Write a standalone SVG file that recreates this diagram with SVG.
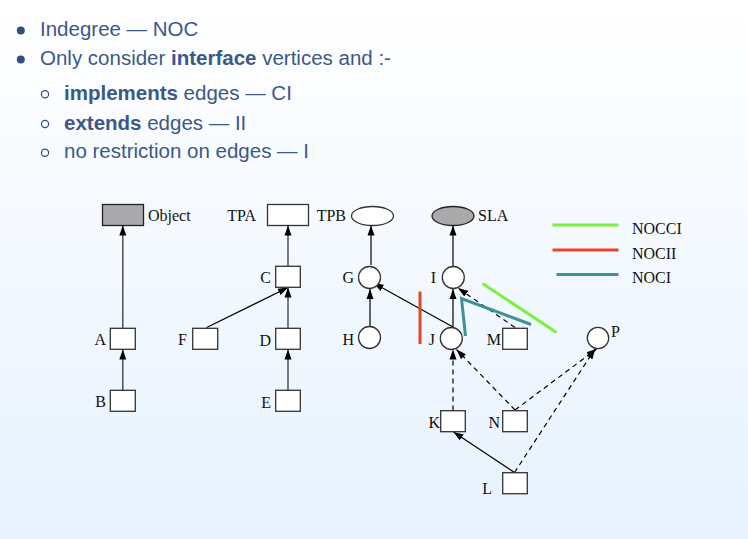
<svg xmlns="http://www.w3.org/2000/svg" width="748" height="539" viewBox="0 0 748 539">
<defs>
<linearGradient id="bg" x1="0" y1="0" x2="0" y2="1">
<stop offset="0" stop-color="#ffffff"/>
<stop offset="1" stop-color="#e7f2fe"/>
</linearGradient>
<marker id="ah" markerUnits="userSpaceOnUse" markerWidth="10" markerHeight="8" refX="10" refY="4" orient="auto">
<path d="M0,0.5 L10,4 L0,7.5 z" fill="#000"/>
</marker>
<style>
.t{font-family:"Liberation Sans",Arial,sans-serif;font-size:20.5px;fill:#3b5889}
.b{font-weight:bold}
.lb{font-family:"Liberation Serif","Times New Roman",serif;font-size:16px;fill:#111}
.nd{fill:#fff;stroke:#333;stroke-width:1.3}
.gr{fill:#aaa9ab;stroke:#222;stroke-width:1.3}
.e{fill:none;stroke:#000;stroke-width:1.2;marker-end:url(#ah)}
.v{stroke:#444;stroke-width:1.4}
.d{stroke-dasharray:5,4}
</style>
</defs>
<rect width="748" height="539" fill="url(#bg)"/>

<g id="text">
<circle cx="20.8" cy="30.5" r="4" fill="#2f4f82"/>
<text class="t" x="40" y="36">Indegree — NOC</text>
<circle cx="20.8" cy="59.5" r="4" fill="#2f4f82"/>
<text class="t" x="40" y="64.5">Only consider <tspan class="b">interface</tspan> vertices and :-</text>
<circle cx="45" cy="94.3" r="3.6" fill="none" stroke="#2f4f82" stroke-width="1.2"/>
<text class="t" x="64" y="100"><tspan class="b">implements</tspan> edges — CI</text>
<circle cx="45" cy="124" r="3.6" fill="none" stroke="#2f4f82" stroke-width="1.2"/>
<text class="t" x="64" y="129.5"><tspan class="b">extends</tspan> edges — II</text>
<circle cx="45" cy="152.7" r="3.6" fill="none" stroke="#2f4f82" stroke-width="1.2"/>
<text class="t" x="64" y="158">no restriction on edges — I</text>
</g>

<g id="connectors">
<line class="e v" x1="122.8" y1="328" x2="122.8" y2="225.5"/>
<line class="e v" x1="122.8" y1="390" x2="122.8" y2="349.5"/>
<line class="e v" x1="288" y1="271" x2="288" y2="225.5"/>
<line class="e" x1="206.7" y1="327.5" x2="288" y2="287.5"/>
<line class="e v" x1="288" y1="328" x2="288" y2="287.5"/>
<line class="e v" x1="288" y1="390" x2="288" y2="349.5"/>
<line class="e" x1="371" y1="265" x2="371" y2="225.5"/>
<line class="e" x1="370" y1="326.5" x2="370" y2="289"/>
<line class="e" x1="453" y1="266" x2="453" y2="225.5"/>
<line class="e" x1="453" y1="327" x2="453" y2="289"/>
<line class="e" x1="453" y1="327" x2="373.5" y2="283"/>
<line class="e d" x1="515" y1="327.5" x2="458" y2="288"/>
<line class="e d" x1="453" y1="410.5" x2="453" y2="349.5"/>
<line class="e d" x1="515" y1="410" x2="456.5" y2="349.5"/>
<line class="e d" x1="515" y1="410" x2="596.5" y2="349"/>
<line class="e d" x1="514.5" y1="472.5" x2="595" y2="349"/>
<line class="e" x1="514.5" y1="472.5" x2="453.5" y2="432"/>
</g>

<g id="highlights" fill="none" stroke-width="3">
<line x1="420" y1="291.5" x2="420" y2="344" stroke="#e8442a"/>
<polyline points="465.5,336 461.5,298.5 531,324.5" stroke="#3c9295"/>
<line x1="482.5" y1="283.5" x2="556.5" y2="332.5" stroke="#7cf03c"/>
</g>

<g id="legend" stroke-width="3">
<line x1="552.5" y1="225" x2="618.5" y2="225" stroke="#7cf03c"/>
<text class="lb" x="632" y="234">NOCCI</text>
<line x1="552.5" y1="250" x2="618.5" y2="250" stroke="#e8442a"/>
<text class="lb" x="632" y="258.5">NOCII</text>
<line x1="556.5" y1="274.5" x2="618.5" y2="274.5" stroke="#3c9295"/>
<text class="lb" x="632" y="283">NOCI</text>
</g>

<g id="Object"><rect class="gr" x="102.5" y="204.5" width="41" height="21"/><text class="lb" x="148" y="221">Object</text></g>
<g id="TPA"><rect class="nd" x="267.5" y="204.5" width="41" height="21"/><text class="lb" x="256" y="221" text-anchor="end">TPA</text></g>
<g id="TPB"><ellipse class="nd" cx="372.5" cy="216" rx="21" ry="9.5"/><text class="lb" x="346" y="221" text-anchor="end">TPB</text></g>
<g id="SLA"><ellipse class="gr" cx="453" cy="216" rx="21" ry="9.5"/><text class="lb" x="478" y="221">SLA</text></g>
<g id="C"><rect class="nd" x="275.7" y="266.3" width="24.6" height="21"/><text class="lb" x="271" y="283" text-anchor="end">C</text></g>
<g id="G"><circle class="nd" cx="369.5" cy="277.5" r="11"/><text class="lb" x="354" y="283" text-anchor="end">G</text></g>
<g id="I"><circle class="nd" cx="453.3" cy="277.5" r="11"/><text class="lb" x="436" y="283" text-anchor="end">I</text></g>
<g id="A"><rect class="nd" x="110.3" y="328.3" width="25" height="21"/><text class="lb" x="106" y="345" text-anchor="end">A</text></g>
<g id="F"><rect class="nd" x="192.7" y="328.3" width="25" height="21"/><text class="lb" x="187" y="345" text-anchor="end">F</text></g>
<g id="D"><rect class="nd" x="275.7" y="328.3" width="24.6" height="21"/><text class="lb" x="271" y="346" text-anchor="end">D</text></g>
<g id="H"><circle class="nd" cx="369.5" cy="337.5" r="11"/><text class="lb" x="354" y="345" text-anchor="end">H</text></g>
<g id="J"><circle class="nd" cx="451.3" cy="338.5" r="11"/><text class="lb" x="435" y="345" text-anchor="end">J</text></g>
<g id="M"><rect class="nd" x="502.7" y="328.3" width="24.6" height="21"/><text class="lb" x="501" y="345" text-anchor="end">M</text></g>
<g id="P"><circle class="nd" cx="598" cy="338" r="10.7"/><text class="lb" x="611" y="337">P</text></g>
<g id="B"><rect class="nd" x="110.3" y="390.3" width="25" height="21"/><text class="lb" x="106" y="407" text-anchor="end">B</text></g>
<g id="E"><rect class="nd" x="275.7" y="390.3" width="24.6" height="21"/><text class="lb" x="271" y="408" text-anchor="end">E</text></g>
<g id="K"><rect class="nd" x="440.7" y="410.7" width="24.6" height="21"/><text class="lb" x="440" y="428" text-anchor="end">K</text></g>
<g id="N"><rect class="nd" x="502.7" y="410.7" width="24.6" height="21"/><text class="lb" x="500" y="428" text-anchor="end">N</text></g>
<g id="L"><rect class="nd" x="502.7" y="472.7" width="24.6" height="21"/><text class="lb" x="492" y="494" text-anchor="end">L</text></g>
</svg>
